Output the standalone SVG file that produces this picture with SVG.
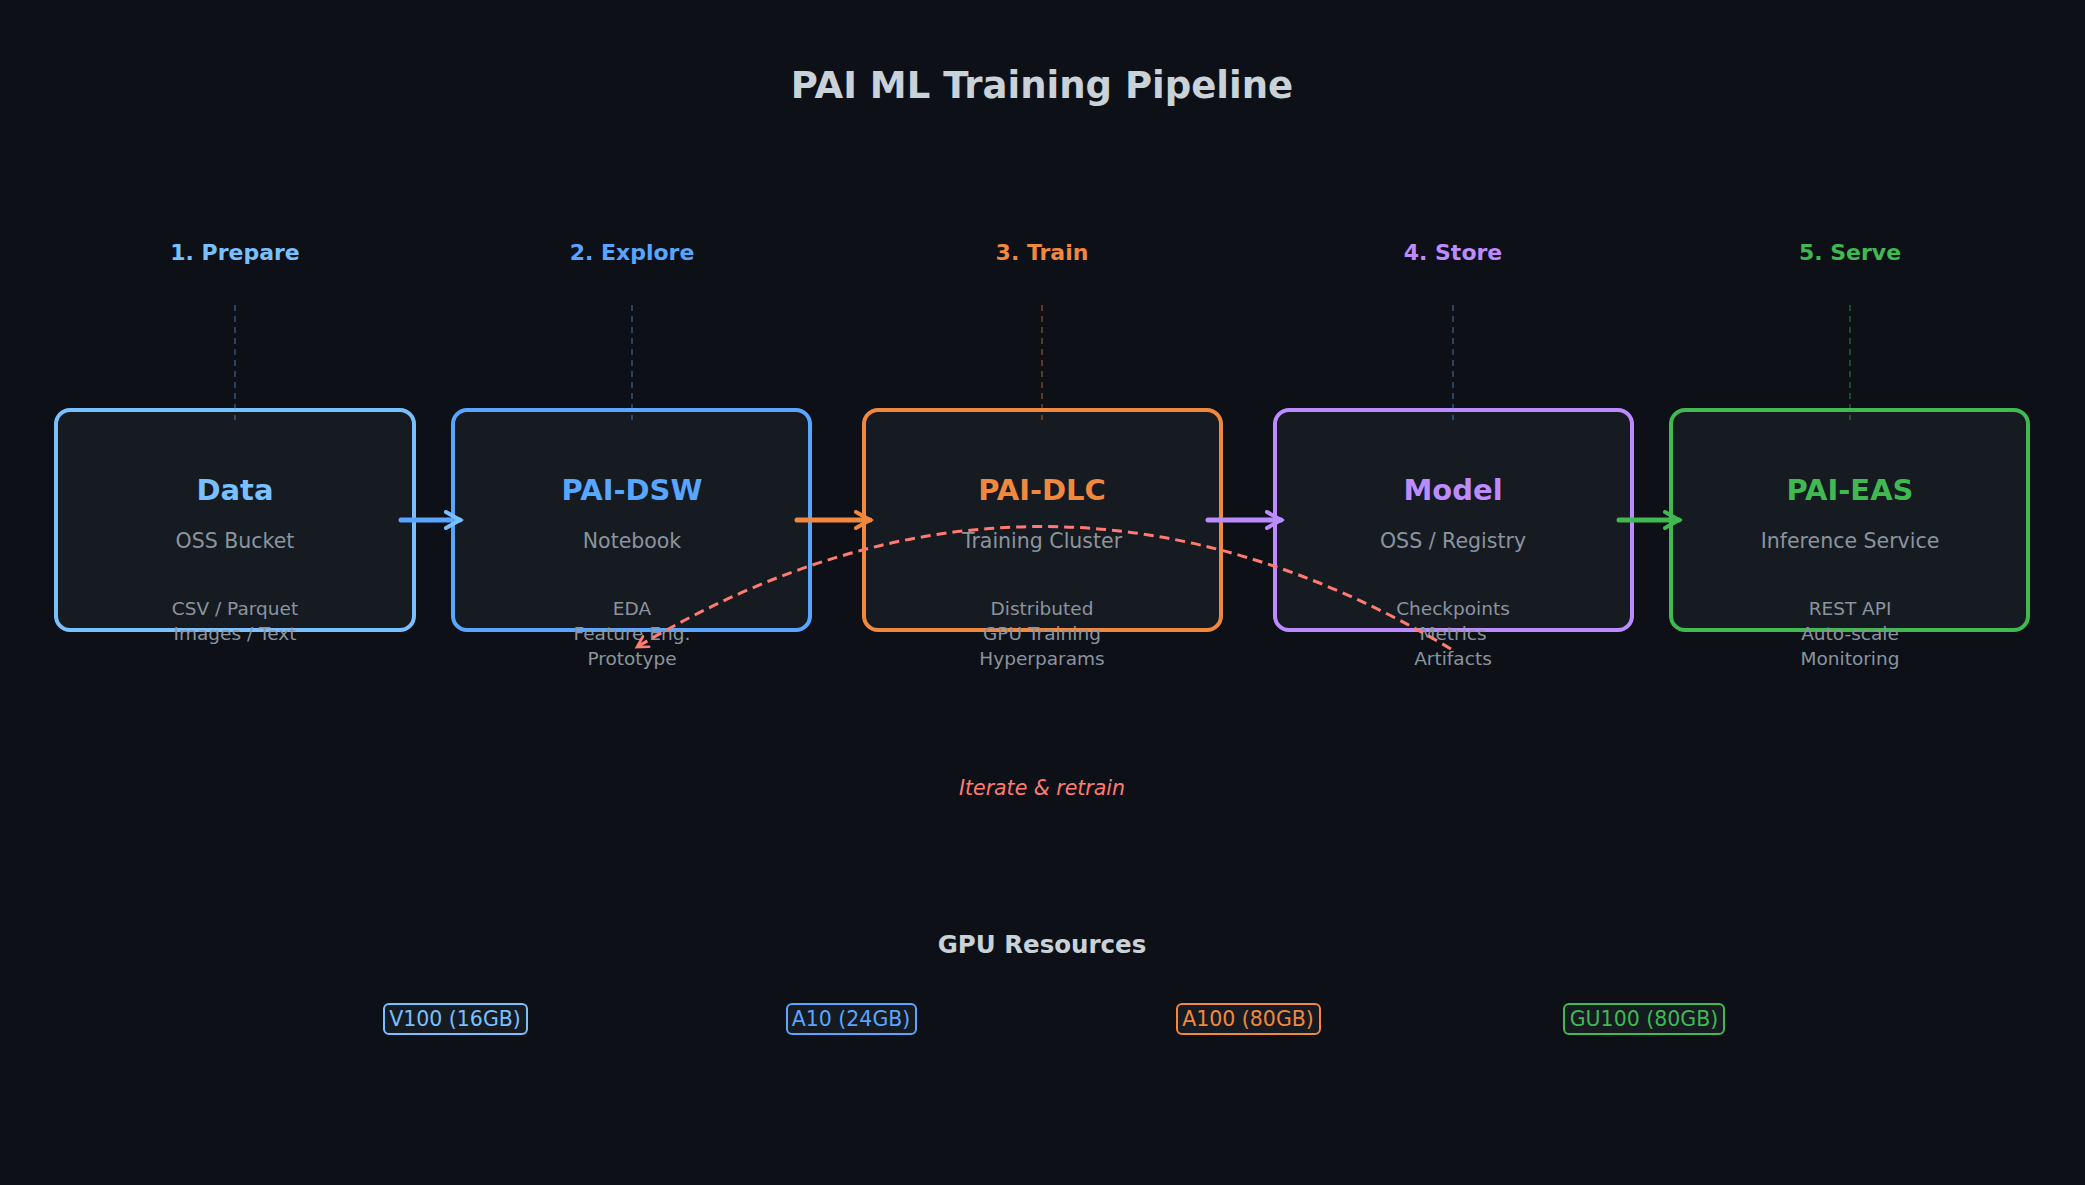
<svg xmlns="http://www.w3.org/2000/svg" width="2085" height="1185" viewBox="0 0 2085 1185">
<style>
text{font-family:"DejaVu Sans","Noto Sans",sans-serif;text-anchor:middle}
.ttl{font-size:37px;font-weight:bold;fill:#c9d1d9}
.stage{font-size:22px;font-weight:bold}
.box{fill:#161b22;stroke-width:4}
.name{font-size:29px;font-weight:bold}
.sub{font-size:20.5px;fill:#8b949e}
.det{font-size:18.5px;fill:#8b949e}
.guide{stroke-width:1.5;stroke-dasharray:6 5;opacity:.45}
.flow{stroke-width:5;fill:none;stroke-linecap:round}
.chip{fill:#161b22;stroke-width:2}
.chipt{font-size:20.5px}
</style>
<defs>
<marker id="m1" viewBox="0 0 10 10" refX="8" refY="5" markerWidth="4" markerHeight="4" orient="auto"><path d="M1 1 L8 5 L1 9" fill="none" stroke="#79c0ff" stroke-width="2" stroke-linecap="round"/></marker>
<marker id="m2" viewBox="0 0 10 10" refX="8" refY="5" markerWidth="4" markerHeight="4" orient="auto"><path d="M1 1 L8 5 L1 9" fill="none" stroke="#f0883e" stroke-width="2" stroke-linecap="round"/></marker>
<marker id="m3" viewBox="0 0 10 10" refX="8" refY="5" markerWidth="4" markerHeight="4" orient="auto"><path d="M1 1 L8 5 L1 9" fill="none" stroke="#bc8cff" stroke-width="2" stroke-linecap="round"/></marker>
<marker id="m4" viewBox="0 0 10 10" refX="8" refY="5" markerWidth="4" markerHeight="4" orient="auto"><path d="M1 1 L8 5 L1 9" fill="none" stroke="#3fb950" stroke-width="2" stroke-linecap="round"/></marker>
<marker id="mr" viewBox="0 0 10 10" refX="8" refY="5" markerWidth="5" markerHeight="5" orient="auto"><path d="M1 1 L8 5 L1 9" fill="none" stroke="#ff7b72" stroke-width="1.8" stroke-linecap="round"/></marker>
</defs>
<rect width="2085" height="1185" fill="#0d1117"/>
<text class="ttl" x="1042" y="98">PAI ML Training Pipeline</text>

<g id="data">
<text class="stage" x="235" y="260" fill="#79c0ff">1. Prepare</text>
<rect class="box" x="56" y="410" width="358" height="220" rx="14" stroke="#79c0ff"/>
<line class="guide" x1="235" y1="305" x2="235" y2="420" stroke="#58a6ff"/>
<text class="name" x="235" y="500" fill="#79c0ff">Data</text>
<text class="sub" x="235" y="548">OSS Bucket</text>
<text class="det" x="235" y="615">CSV / Parquet</text>
<text class="det" x="235" y="640">Images / Text</text>
</g>
<g id="dsw">
<text class="stage" x="632" y="260" fill="#58a6ff">2. Explore</text>
<rect class="box" x="453" y="410" width="357" height="220" rx="14" stroke="#58a6ff"/>
<line class="guide" x1="632" y1="305" x2="632" y2="420" stroke="#58a6ff"/>
<text class="name" x="632" y="500" fill="#58a6ff">PAI-DSW</text>
<text class="sub" x="632" y="548">Notebook</text>
<text class="det" x="632" y="615">EDA</text>
<text class="det" x="632" y="640">Feature Eng.</text>
<text class="det" x="632" y="665">Prototype</text>
</g>
<g id="dlc">
<text class="stage" x="1042" y="260" fill="#f0883e">3. Train</text>
<rect class="box" x="864" y="410" width="357" height="220" rx="14" stroke="#f0883e"/>
<line class="guide" x1="1042" y1="305" x2="1042" y2="420" stroke="#f0883e"/>
<text class="name" x="1042" y="500" fill="#f0883e">PAI-DLC</text>
<text class="sub" x="1042" y="548">Training Cluster</text>
<text class="det" x="1042" y="615">Distributed</text>
<text class="det" x="1042" y="640">GPU Training</text>
<text class="det" x="1042" y="665">Hyperparams</text>
</g>
<g id="model">
<text class="stage" x="1453" y="260" fill="#bc8cff">4. Store</text>
<rect class="box" x="1275" y="410" width="357" height="220" rx="14" stroke="#bc8cff"/>
<line class="guide" x1="1453" y1="305" x2="1453" y2="420" stroke="#58a6ff"/>
<text class="name" x="1453" y="500" fill="#bc8cff">Model</text>
<text class="sub" x="1453" y="548">OSS / Registry</text>
<text class="det" x="1453" y="615">Checkpoints</text>
<text class="det" x="1453" y="640">Metrics</text>
<text class="det" x="1453" y="665">Artifacts</text>
</g>
<g id="eas">
<text class="stage" x="1850" y="260" fill="#3fb950">5. Serve</text>
<rect class="box" x="1671" y="410" width="357" height="220" rx="14" stroke="#3fb950"/>
<line class="guide" x1="1850" y1="305" x2="1850" y2="420" stroke="#3fb950"/>
<text class="name" x="1850" y="500" fill="#3fb950">PAI-EAS</text>
<text class="sub" x="1850" y="548">Inference Service</text>
<text class="det" x="1850" y="615">REST API</text>
<text class="det" x="1850" y="640">Auto-scale</text>
<text class="det" x="1850" y="665">Monitoring</text>
</g>

<g id="connectors">
<path class="flow" d="M401 520 H460" stroke="#58a6ff" marker-end="url(#m1)"/>
<path class="flow" d="M797 520 H870" stroke="#f0883e" marker-end="url(#m2)"/>
<path class="flow" d="M1208 520 H1281" stroke="#bc8cff" marker-end="url(#m3)"/>
<path class="flow" d="M1619 520 H1679" stroke="#3fb950" marker-end="url(#m4)"/>
<path d="M1451 649 Q1042 405 637 647" fill="none" stroke="#ff7b72" stroke-width="3" stroke-dasharray="10 6" marker-end="url(#mr)"/>
<text x="1042" y="795" font-size="20.5" font-style="italic" fill="#ff7b72">Iterate &amp; retrain</text>
</g>

<g id="gpu">
<text x="1042" y="953" font-size="24.5" font-weight="bold" fill="#c9d1d9">GPU Resources</text>
<rect class="chip" x="384" y="1004" width="143" height="30" rx="5" stroke="#79c0ff"/>
<text class="chipt" x="455" y="1026" fill="#79c0ff">V100 (16GB)</text>
<rect class="chip" x="787" y="1004" width="129" height="30" rx="5" stroke="#58a6ff"/>
<text class="chipt" x="851" y="1026" fill="#58a6ff">A10 (24GB)</text>
<rect class="chip" x="1177" y="1004" width="143" height="30" rx="5" stroke="#f0883e"/>
<text class="chipt" x="1248" y="1026" fill="#f0883e">A100 (80GB)</text>
<rect class="chip" x="1564" y="1004" width="160" height="30" rx="5" stroke="#3fb950"/>
<text class="chipt" x="1644" y="1026" fill="#3fb950">GU100 (80GB)</text>
</g>
</svg>
